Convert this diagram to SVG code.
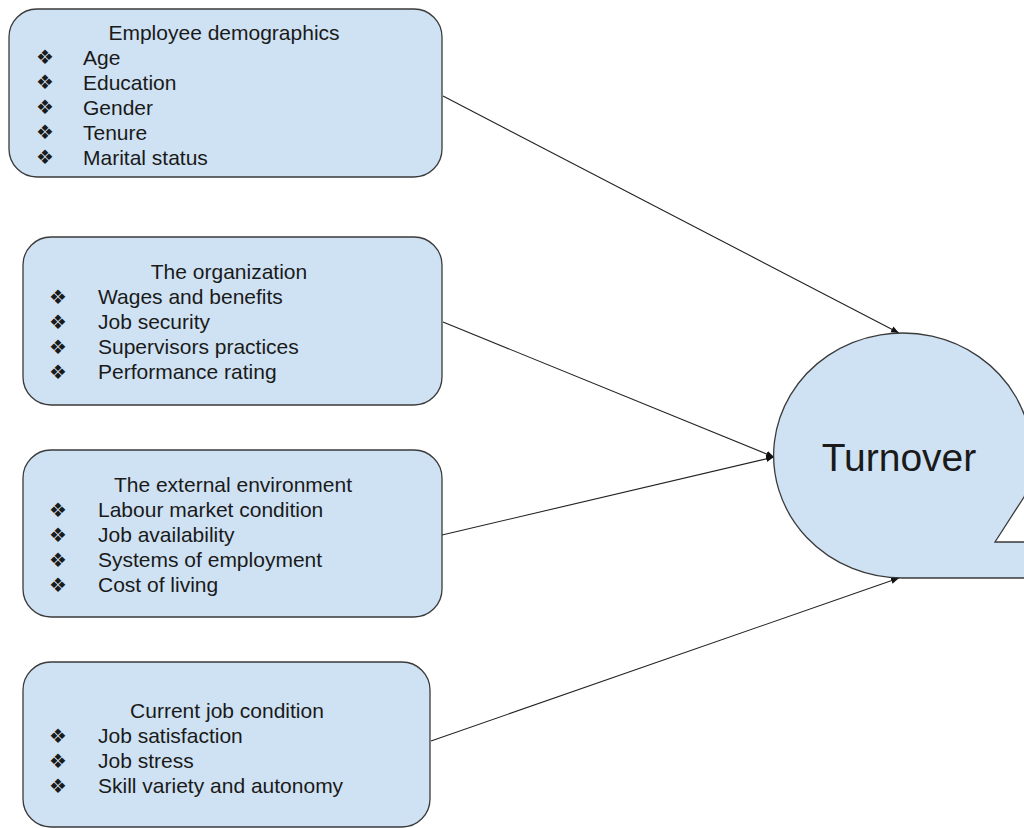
<svg xmlns="http://www.w3.org/2000/svg" width="1024" height="828" viewBox="0 0 1024 828">
<defs>
<style>
.box{fill:#cfe2f3;stroke:#3a3a3a;stroke-width:1.3}
.t{font-family:"Liberation Sans",Arial,sans-serif;font-size:21px;fill:#1a1a1a}
.c{text-anchor:middle}
.b{font-family:"DejaVu Sans",sans-serif;font-size:20px;fill:#1a1a1a;text-anchor:middle}
.conn{stroke:#222;stroke-width:1.1;fill:none;marker-end:url(#ah)}
</style>
<marker id="ah" viewBox="0 0 10 10" refX="10" refY="5" markerWidth="8" markerHeight="8" orient="auto" markerUnits="userSpaceOnUse">
<path d="M0,1 L10,5 L0,9 z" fill="#111"/>
</marker>
</defs>
<rect width="1024" height="828" fill="#ffffff"/>
<g id="connectors">
<line class="conn" x1="443" y1="96" x2="899" y2="333"/>
<line class="conn" x1="443" y1="322" x2="774" y2="457"/>
<line class="conn" x1="442" y1="535" x2="774" y2="457"/>
<line class="conn" x1="431" y1="741" x2="899" y2="578"/>
</g>
<g id="turnover">
<path class="box" d="M903,578 A129,122.5 0 1 1 1024,497 L995,542 L1040,542 L1040,578 Z"/>
<text class="t c" x="899" y="471" style="font-size:39px">Turnover</text>
</g>
<g id="demographics">
<rect class="box" x="9" y="9" width="433" height="168" rx="28"/>
<text class="t c" x="224" y="39.5">Employee demographics</text>
<text class="b" x="45" y="64">❖</text><text class="t" x="83" y="64.5">Age</text>
<text class="b" x="45" y="89">❖</text><text class="t" x="83" y="89.5">Education</text>
<text class="b" x="45" y="114">❖</text><text class="t" x="83" y="114.5">Gender</text>
<text class="b" x="45" y="139">❖</text><text class="t" x="83" y="139.5">Tenure</text>
<text class="b" x="45" y="164">❖</text><text class="t" x="83" y="164.5">Marital status</text>
</g>
<g id="organization">
<rect class="box" x="23" y="237" width="419" height="168" rx="28"/>
<text class="t c" x="229" y="279">The organization</text>
<text class="b" x="58" y="304">❖</text><text class="t" x="98" y="304">Wages and benefits</text>
<text class="b" x="58" y="329">❖</text><text class="t" x="98" y="329">Job security</text>
<text class="b" x="58" y="354">❖</text><text class="t" x="98" y="354">Supervisors practices</text>
<text class="b" x="58" y="379">❖</text><text class="t" x="98" y="379">Performance rating</text>
</g>
<g id="external">
<rect class="box" x="23" y="450" width="419" height="167" rx="28"/>
<text class="t c" x="233" y="492">The external environment</text>
<text class="b" x="58" y="517">❖</text><text class="t" x="98" y="517">Labour market condition</text>
<text class="b" x="58" y="542">❖</text><text class="t" x="98" y="542">Job availability</text>
<text class="b" x="58" y="567">❖</text><text class="t" x="98" y="567">Systems of employment</text>
<text class="b" x="58" y="592">❖</text><text class="t" x="98" y="592">Cost of living</text>
</g>
<g id="jobcondition">
<rect class="box" x="23" y="662" width="407" height="165" rx="28"/>
<text class="t c" x="227" y="718">Current job condition</text>
<text class="b" x="58" y="743">❖</text><text class="t" x="98" y="743">Job satisfaction</text>
<text class="b" x="58" y="768">❖</text><text class="t" x="98" y="768">Job stress</text>
<text class="b" x="58" y="793">❖</text><text class="t" x="98" y="793">Skill variety and autonomy</text>
</g>
</svg>
